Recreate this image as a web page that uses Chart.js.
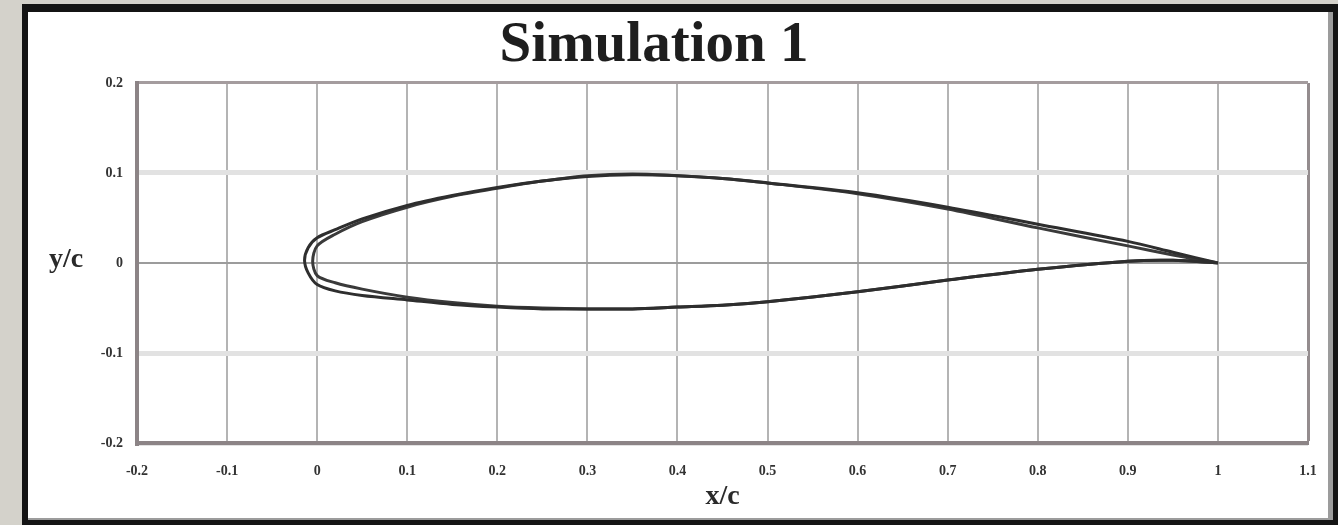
<!DOCTYPE html>
<html>
<head>
<meta charset="utf-8">
<title>Simulation 1</title>
<script src="https://cdn.jsdelivr.net/npm/chart.js@4"></script>
<style>
  body { margin: 0; background: #d4d2cb; }
  .frame { position: absolute; left: 22px; top: 4px; width: 1316px; height: 521px; background: #141414; }
  .panel { position: absolute; left: 6px; top: 8px; width: 1300px; height: 506px; background: #fff;
           border-right: 5px solid #9c9c9c; border-bottom: 2px solid #9c9c9c; }
  #chart { position: absolute; left: 0; top: 0; }
</style>
</head>
<body>
<div class="frame"><div class="panel"></div></div>
<canvas id="chart" width="1338" height="525"></canvas>
<script>
// contour of the first airfoil: trailing edge -> upper -> leading edge -> lower -> trailing edge
const outer_x = [1.0, 0.95, 0.9, 0.8, 0.7, 0.6, 0.5, 0.45, 0.4, 0.35, 0.3, 0.25, 0.2, 0.15, 0.1, 0.05, 0.02, 0.0, -0.01, -0.014,
  -0.01, 0.0, 0.02, 0.05, 0.1, 0.15, 0.2, 0.25, 0.3, 0.35, 0.4, 0.45, 0.5, 0.6, 0.7, 0.8, 0.9, 0.95, 1.0];
const outer_y = [0.0, 0.012, 0.024, 0.043, 0.062, 0.078, 0.089, 0.094, 0.097, 0.098, 0.096, 0.091, 0.084, 0.075, 0.064, 0.049, 0.037, 0.028, 0.017, 0.003,
  -0.011, -0.024, -0.031, -0.036, -0.041, -0.046, -0.049, -0.051, -0.051, -0.051, -0.049, -0.047, -0.043, -0.032, -0.019, -0.007, 0.002, 0.003, 0.0];

// second airfoil, slightly sharper nose
const inner_x = [1.0, 0.95, 0.9, 0.8, 0.7, 0.6, 0.5, 0.45, 0.4, 0.35, 0.3, 0.25, 0.2, 0.15, 0.1, 0.05, 0.02, 0.0, -0.005,
  0.0, 0.02, 0.05, 0.1, 0.15, 0.2, 0.25, 0.3, 0.35, 0.4, 0.45, 0.5, 0.6, 0.7, 0.8, 0.9, 0.95, 1.0];
const inner_y = [0.0, 0.009, 0.019, 0.039, 0.060, 0.077, 0.089, 0.094, 0.097, 0.099, 0.097, 0.091, 0.083, 0.074, 0.062, 0.046, 0.032, 0.019, 0.002,
  -0.014, -0.022, -0.029, -0.038, -0.044, -0.048, -0.050, -0.051, -0.051, -0.049, -0.047, -0.043, -0.032, -0.019, -0.007, 0.002, 0.003, 0.0];

const x_ticks = [-0.2, -0.1, 0, 0.1, 0.2, 0.3, 0.4, 0.5, 0.6, 0.7, 0.8, 0.9, 1, 1.1];
const x_tick_labels = ['-0.2', '-0.1', '0', '0.1', '0.2', '0.3', '0.4', '0.5', '0.6', '0.7', '0.8', '0.9', '1', '1.1'];
const y_ticks = [-0.2, -0.1, 0, 0.1, 0.2];
const y_tick_labels = ['-0.2', '-0.1', '0', '0.1', '0.2'];

const title_text = 'Simulation 1';
const x_title = 'x/c';
const y_title = 'y/c';

const toPoints = (xs, ys) => xs.map((x, i) => ({ x: x, y: ys[i] }));

const tickFont = { family: 'Liberation Serif', weight: 'bold', size: 14 };
const near = (a, b) => Math.abs(a - b) < 1e-6;

// horizontal "y/c" label, Chart.js would rotate it
const yTitlePlugin = {
  id: 'yTitle',
  afterDraw(chart) {
    const ctx = chart.ctx;
    ctx.save();
    ctx.font = 'bold 28px "Liberation Serif"';
    ctx.fillStyle = '#2a2a2a';
    ctx.textAlign = 'center';
    ctx.textBaseline = 'middle';
    ctx.fillText(y_title, 66, 260);
    ctx.restore();
  },
};

const ctx = document.getElementById('chart').getContext('2d');

const chart = new Chart(ctx, {
  type: 'scatter',
  data: {
    datasets: [
      {
        label: 'outer',
        data: toPoints(outer_x, outer_y),
        showLine: true,
        borderColor: '#2e2e2e',
        borderWidth: 3,
        pointRadius: 0,
        tension: 0.3,
      },
      {
        label: 'inner',
        data: toPoints(inner_x, inner_y),
        showLine: true,
        borderColor: '#3a3a3a',
        borderWidth: 3,
        pointRadius: 0,
        tension: 0.3,
      },
    ],
  },
  options: {
    responsive: false,
    animation: false,
    layout: { padding: { left: 0, right: 30, top: 0, bottom: 0 } },
    scales: {
      x: {
        type: 'linear',
        min: -0.2,
        max: 1.1,
        afterBuildTicks: (scale) => {
          scale.ticks = x_ticks.map((v) => ({ value: v }));
        },
        afterFit: (scale) => {
          scale.height = 82;
        },
        ticks: {
          font: tickFont,
          color: '#333',
          padding: 20,
          maxRotation: 0,
          callback: (v) => x_tick_labels[x_ticks.findIndex((t) => near(t, v))],
        },
        grid: {
          drawTicks: false,
          color: (c) => (c.tick && near(c.tick.value, 1.1) ? '#948c8e' : '#b4b4b4'),
          lineWidth: (c) => (c.tick && near(c.tick.value, 1.1) ? 3 : 2),
        },
        border: { color: '#8c8486', width: 4 },
        title: {
          display: true,
          text: x_title,
          font: { family: 'Liberation Serif', weight: 'bold', size: 28 },
          color: '#2a2a2a',
          padding: { top: 0, bottom: 11 },
        },
      },
      y: {
        type: 'linear',
        min: -0.2,
        max: 0.2,
        afterBuildTicks: (scale) => {
          scale.ticks = y_ticks.map((v) => ({ value: v }));
        },
        afterFit: (scale) => {
          scale.width = 137;
        },
        ticks: {
          font: tickFont,
          color: '#333',
          padding: 14,
          callback: (v) => y_tick_labels[y_ticks.findIndex((t) => near(t, v))],
        },
        grid: {
          drawTicks: false,
          color: (c) => {
            const v = c.tick ? c.tick.value : 0;
            if (near(v, 0.2)) return '#a49c9e';
            if (near(v, 0)) return '#9c9c9c';
            return '#e2e2e2';
          },
          lineWidth: (c) => {
            const v = c.tick ? c.tick.value : 0;
            if (near(v, 0.2)) return 3;
            if (near(v, 0)) return 2;
            return 5;
          },
        },
        border: { color: '#8c8486', width: 4 },
      },
    },
    plugins: {
      legend: { display: false },
      tooltip: { enabled: false },
      title: {
        display: true,
        text: title_text,
        font: { family: 'Liberation Serif', weight: 'bold', size: 57, lineHeight: 1.2 },
        color: '#1e1e1e',
        padding: { top: 12, bottom: 2.6 },
      },
    },
  },
  plugins: [yTitlePlugin],
});
</script>
</body>
</html>
